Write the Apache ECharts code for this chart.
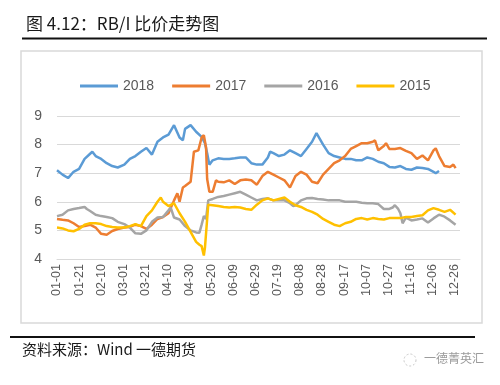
<!DOCTYPE html>
<html><head><meta charset="utf-8">
<script src="https://cdn.jsdelivr.net/npm/echarts@6/dist/echarts.min.js"></script>
<style>html,body{margin:0;padding:0;background:#fff}#c{width:500px;height:385px}</style>
</head><body><div id="c"></div>
<script>
// Category axis: every day of a leap year, labelled MM-DD
var monthDays = [31,29,31,30,31,30,31,31,30,31,30,31];
var categories = [];
for (var m = 0; m < 12; m++) {
  for (var d = 1; d <= monthDays[m]; d++) {
    categories.push((m < 9 ? '0' : '') + (m + 1) + '-' + (d < 10 ? '0' : '') + d);
  }
}
var seriesNames = ['2018', '2017', '2016', '2015'];
var yTicks = [4, 5, 6, 7, 8, 9];

var s2018 = [
['01-01',7.1],['01-06',6.95],['01-11',6.83],['01-16',7.05],['01-21',7.15],['01-26',7.5],['01-31',7.68],['02-02',7.75],['02-05',7.6],['02-10',7.5],['02-15',7.35],['02-20',7.25],['02-25',7.2],['03-02',7.3],['03-07',7.5],['03-12',7.6],['03-17',7.75],['03-22',7.88],['03-27',7.65],['04-01',8.1],['04-06',8.25],['04-11',8.35],['04-16',8.68],['04-21',8.25],['04-24',8.15],['04-26',8.55],['05-01',8.68],['05-06',8.45],['05-11',8.27],['05-14',8.05],['05-16',7.7],['05-18',7.3],['05-21',7.45],['05-26',7.52],['05-31',7.5],['06-05',7.5],['06-10',7.52],['06-15',7.55],['06-20',7.55],['06-25',7.35],['06-30',7.3],['07-05',7.3],['07-10',7.55],['07-12',7.75],['07-15',7.7],['07-20',7.6],['07-25',7.65],['07-30',7.8],['08-04',7.7],['08-09',7.6],['08-14',7.85],['08-19',8.1],['08-23',8.4],['08-24',8.35],['08-29',8.0],['09-03',7.7],['09-08',7.6],['09-13',7.55],['09-18',7.5],['09-23',7.5],['09-28',7.45],['10-03',7.45],['10-08',7.55],['10-13',7.5],['10-18',7.4],['10-23',7.35],['10-28',7.22],['11-02',7.2],['11-07',7.25],['11-12',7.15],['11-17',7.12],['11-22',7.2],['11-27',7.18],['12-02',7.15],['12-07',7.05],['12-09',7.0],['12-12',7.08]
];
var s2017 = [
['01-01',5.4],['01-06',5.37],['01-11',5.35],['01-16',5.25],['01-21',5.12],['01-26',5.15],['01-31',5.2],['02-05',5.1],['02-10',4.88],['02-15',4.85],['02-20',4.98],['02-25',5.05],['03-02',5.1],['03-07',5.12],['03-12',5.2],['03-17',5.15],['03-22',5.05],['03-27',5.2],['04-01',5.4],['04-06',5.47],['04-11',5.6],['04-16',6.05],['04-19',6.3],['04-21',6.0],['04-24',6.5],['04-26',6.55],['05-01',6.7],['05-04',7.75],['05-08',7.8],['05-11',8.25],['05-13',8.33],['05-15',7.9],['05-16',6.8],['05-18',6.35],['05-21',6.35],['05-24',6.75],['05-26',6.7],['05-31',6.68],['06-05',6.75],['06-10',6.62],['06-15',6.75],['06-20',6.78],['06-25',6.75],['06-30',6.6],['07-05',6.9],['07-10',7.05],['07-15',6.95],['07-20',6.85],['07-25',6.75],['07-30',6.5],['08-04',6.9],['08-09',7.05],['08-14',6.95],['08-19',6.7],['08-24',6.65],['08-29',6.95],['09-03',7.15],['09-08',7.35],['09-13',7.45],['09-18',7.6],['09-23',7.85],['09-28',7.95],['10-03',8.05],['10-08',8.05],['10-13',8.1],['10-15',8.15],['10-18',7.8],['10-23',7.95],['10-25',8.05],['10-28',7.85],['11-02',7.85],['11-07',7.88],['11-12',7.78],['11-17',7.7],['11-22',7.5],['11-27',7.62],['12-02',7.45],['12-07',7.8],['12-09',7.87],['12-12',7.6],['12-17',7.25],['12-22',7.22],['12-25',7.3],['12-27',7.18]
];
var s2016 = [
['01-01',5.5],['01-06',5.55],['01-11',5.7],['01-16',5.75],['01-21',5.78],['01-26',5.82],['01-28',5.75],['01-31',5.68],['02-05',5.55],['02-10',5.5],['02-15',5.47],['02-20',5.43],['02-25',5.3],['03-02',5.22],['03-07',5.1],['03-12',4.9],['03-17',4.88],['03-22',5.0],['03-27',5.3],['04-01',5.45],['04-06',5.47],['04-11',5.7],['04-13',5.8],['04-16',5.45],['04-21',5.38],['04-26',5.15],['05-01',5.0],['05-06',4.93],['05-09',4.92],['05-11',5.2],['05-13',5.5],['05-15',5.4],['05-17',6.05],['05-21',6.1],['05-26',6.17],['05-31',6.2],['06-05',6.25],['06-10',6.3],['06-15',6.35],['06-20',6.25],['06-25',6.15],['06-30',6.05],['07-05',6.1],['07-10',6.12],['07-15',6.05],['07-20',6.05],['07-25',6.05],['07-30',5.95],['08-02',5.85],['08-04',5.88],['08-09',6.05],['08-14',6.12],['08-19',6.13],['08-24',6.1],['08-29',6.08],['09-03',6.05],['09-08',6.05],['09-13',6.05],['09-18',6.0],['09-23',6.0],['09-28',6.0],['10-03',5.97],['10-08',5.95],['10-13',5.95],['10-18',5.92],['10-23',5.75],['10-28',5.75],['10-31',5.8],['11-02',5.88],['11-05',5.75],['11-07',5.6],['11-09',5.25],['11-12',5.45],['11-17',5.35],['11-22',5.38],['11-27',5.42],['12-02',5.28],['12-07',5.42],['12-12',5.55],['12-17',5.48],['12-22',5.35],['12-27',5.2]
];
var s2015 = [
['01-01',5.1],['01-06',5.07],['01-11',5.0],['01-16',4.97],['01-21',5.05],['01-26',5.2],['01-31',5.25],['02-05',5.25],['02-10',5.22],['02-15',5.15],['02-20',5.12],['02-25',5.1],['03-02',5.1],['03-07',5.15],['03-12',5.22],['03-17',5.15],['03-22',5.5],['03-27',5.7],['04-01',6.0],['04-04',6.15],['04-06',6.0],['04-11',5.85],['04-16',5.95],['04-21',5.6],['04-26',5.3],['05-01',4.95],['05-06',4.6],['05-09',4.5],['05-11',4.45],['05-13',4.12],['05-14',4.4],['05-17',5.9],['05-21',5.88],['05-26',5.85],['05-31',5.82],['06-05',5.8],['06-10',5.82],['06-15',5.8],['06-20',5.75],['06-25',5.72],['06-30',5.9],['07-05',6.05],['07-10',6.12],['07-15',6.05],['07-20',6.1],['07-25',6.15],['07-30',6.0],['08-04',5.88],['08-09',5.82],['08-14',5.72],['08-19',5.65],['08-24',5.55],['08-29',5.4],['09-03',5.3],['09-08',5.2],['09-13',5.15],['09-18',5.25],['09-23',5.3],['09-28',5.4],['10-03',5.43],['10-08',5.38],['10-13',5.43],['10-18',5.4],['10-23',5.38],['10-28',5.43],['11-02',5.43],['11-07',5.43],['11-12',5.47],['11-17',5.47],['11-22',5.5],['11-27',5.53],['12-02',5.7],['12-07',5.78],['12-12',5.72],['12-17',5.65],['12-22',5.72],['12-27',5.55]
];

var colors = ['#5B9BD5', '#ED7D31', '#A5A5A5', '#FFC000'];
var allData = [s2018, s2017, s2016, s2015];

var chart = echarts.init(document.getElementById('c'), null, {renderer: 'canvas'});
var labelColor = '#595959';
var latin = '"Liberation Sans", "Noto Sans", sans-serif';
var cjk = '"Noto Sans CJK SC", sans-serif';

chart.setOption({
  animation: false,
  backgroundColor: '#fff',
  color: colors,
  graphic: [
    {type: 'rect', z: 0, shape: {x: 21, y: 51, width: 461, height: 272},
     style: {fill: 'none', stroke: '#d9d9d9', lineWidth: 1.5}},
    {type: 'text', left: 26, top: 15,
     style: {text: '图 4.12：RB/I 比价走势图', font: '17px ' + cjk, fill: '#1a1a1a'}},
    {type: 'rect', shape: {x: 22, y: 37.5, width: 465, height: 2}, style: {fill: '#111'}},
    {type: 'rect', shape: {x: 10, y: 336, width: 465, height: 2}, style: {fill: '#111'}},
    {type: 'text', left: 22, top: 342,
     style: {text: '资料来源：Wind 一德期货', font: '15px ' + cjk, fill: '#1a1a1a'}},
    {type: 'circle', shape: {cx: 410, cy: 360, r: 6}, style: {fill: 'none', stroke: '#c8c8c8', lineWidth: 1, lineDash: [2, 2]}},
    {type: 'text', left: 424, top: 352,
     style: {text: '一德菁英汇', font: '12px ' + cjk, fill: '#9a9a9a'}}
  ],
  legend: {
    data: seriesNames,
    top: 74, left: 75,
    icon: 'rect',
    itemWidth: 38, itemHeight: 3, itemGap: 18,
    textStyle: {fontSize: 14, color: labelColor, fontFamily: latin}
  },
  grid: {left: 57, top: 116, width: 403, height: 143, containLabel: false},
  xAxis: {
    type: 'category', data: categories, boundaryGap: false,
    axisLine: {show: true, lineStyle: {color: '#d9d9d9'}},
    axisTick: {show: false},
    axisLabel: {interval: 19, rotate: 90, margin: 5, fontSize: 12.5, color: labelColor, fontFamily: latin}
  },
  yAxis: {
    type: 'value', min: yTicks[0], max: yTicks[yTicks.length - 1], interval: 1,
    axisLine: {show: false}, axisTick: {show: false},
    axisLabel: {fontSize: 14, color: labelColor, margin: 15, fontFamily: latin},
    splitLine: {lineStyle: {color: '#d9d9d9', width: 1}}
  },
  series: seriesNames.map(function (n, i) {
    return {
      name: n, type: 'line', data: allData[i], symbol: 'none',
      lineStyle: {width: 2.5, color: colors[i]}, itemStyle: {color: colors[i]}
    };
  })
});
</script></body></html>
